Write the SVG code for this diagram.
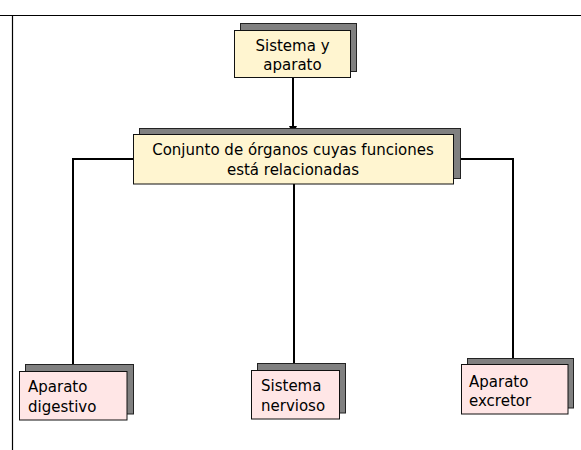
<svg xmlns="http://www.w3.org/2000/svg" width="581" height="450" viewBox="0 0 581 450">
<style>
.bg{fill:#ffffff}
.frame{stroke:#000;stroke-width:1.2;fill:none}
.shadow{fill:#808080;stroke:#222;stroke-width:1}
.yel{fill:#fff5d0;stroke:#111;stroke-width:1}
.pink{fill:#ffe6e6;stroke:#111;stroke-width:1}
.conn{stroke:#000;stroke-width:2;fill:none}
text{font-family:"Comic Sans MS","DejaVu Sans",sans-serif;font-size:15px;fill:#000}
.c{text-anchor:middle}
</style>
<defs>
<marker id="arr" viewBox="0 0 8 8" refX="8" refY="4" markerWidth="8" markerHeight="8" markerUnits="userSpaceOnUse" orient="auto">
<path d="M0,0 L8,4 L0,8 z" fill="#000"/>
</marker>
</defs>
<rect class="bg" x="0" y="0" width="581" height="450"/>
<g id="frame">
<line class="frame" x1="0" y1="15.5" x2="581" y2="15.5"/>
<line class="frame" x1="12.5" y1="15.5" x2="12.5" y2="450"/>
</g>
<g id="connectors">
<line class="conn" x1="293" y1="77" x2="293" y2="134" marker-end="url(#arr)"/>
<polyline class="conn" points="133,159 73,159 73,364"/>
<line class="conn" x1="294" y1="184" x2="294" y2="363"/>
<polyline class="conn" points="453,159 513,159 513,358"/>
</g>
<g id="n-sistema">
<rect class="shadow" x="240.5" y="23.5" width="116" height="48"/>
<rect class="yel" x="234.5" y="30.5" width="116" height="47"/>
<text class="c" x="292.5" y="51">Sistema y</text>
<text class="c" x="292.5" y="70">aparato</text>
</g>
<g id="n-conjunto">
<rect class="shadow" x="139.5" y="128.5" width="321" height="50"/>
<rect class="yel" x="133.5" y="134.5" width="320" height="49.5"/>
<text class="c" x="293" y="155">Conjunto de órganos cuyas funciones</text>
<text class="c" x="293" y="175">está relacionadas</text>
</g>
<g id="n-digestivo">
<rect class="shadow" x="25.5" y="364.5" width="108" height="49.5"/>
<rect class="pink" x="19.5" y="371.5" width="107.5" height="48.5"/>
<text x="28" y="392">Aparato</text>
<text x="28" y="411.5">digestivo</text>
</g>
<g id="n-nervioso">
<rect class="shadow" x="257.5" y="363.5" width="88" height="49.5"/>
<rect class="pink" x="251.5" y="370.5" width="88" height="48.5"/>
<text x="261" y="391">Sistema</text>
<text x="261" y="410.5">nervioso</text>
</g>
<g id="n-excretor">
<rect class="shadow" x="467.5" y="358.5" width="106" height="49.5"/>
<rect class="pink" x="461.5" y="364.5" width="106.5" height="49.5"/>
<text x="469" y="386.5">Aparato</text>
<text x="469" y="405.5">excretor</text>
</g>
</svg>
